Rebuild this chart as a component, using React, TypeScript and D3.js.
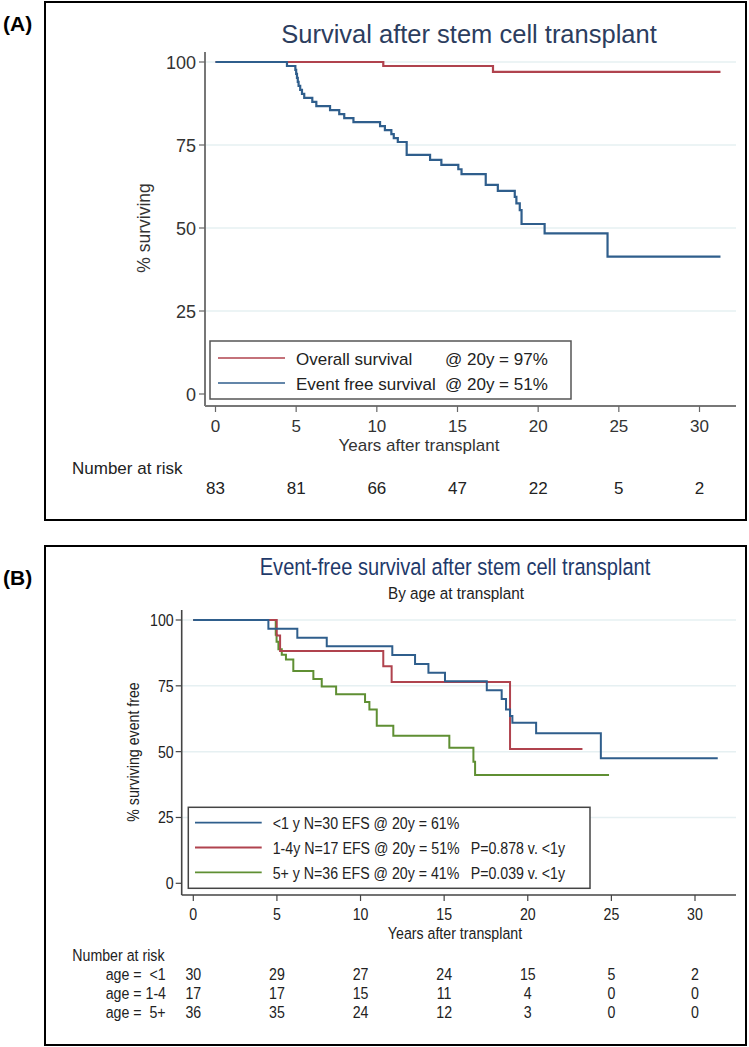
import React from 'react';
import * as d3 from 'd3';

// ---------- shared ----------
const yearTicks = [0, 5, 10, 15, 20, 25, 30];
const pctTicks = [0, 25, 50, 75, 100];
const gridTicks = [25, 50, 75, 100];

// ---------- Panel A data ----------
const osTimes = [0, 10.4, 17.2, 31.3];
const osSurv = [100, 98.8, 97.0, 97.0];
const efsTimes = [0, 4.43, 4.95, 5.0, 5.05, 5.1, 5.15, 5.25, 5.36, 5.5, 6.0, 6.25, 7.1, 7.67, 7.98, 8.55, 10.2, 10.5, 10.9, 11.05, 11.3, 11.85, 13.3, 14.0, 15.05, 15.25, 16.75, 17.5, 18.55, 18.65, 18.86, 18.97, 20.4, 24.3, 31.3];
const efsSurv = [100, 98.8, 97.6, 96.4, 95.2, 94.0, 92.8, 91.6, 90.4, 89.2, 88.0, 86.7, 85.5, 84.3, 83.1, 81.9, 80.7, 79.5, 78.3, 77.1, 75.9, 72.0, 70.5, 69.0, 67.7, 66.2, 63.0, 61.2, 59.4, 57.4, 55.4, 51.2, 48.4, 41.4, 41.4];
const riskA = [83, 81, 66, 47, 22, 5, 2];
const legendA = [
  { name: 'Overall survival', stat: '@ 20y = 97%', color: '#b0434e' },
  { name: 'Event free survival', stat: '@ 20y = 51%', color: '#2f5e8c' },
];

// ---------- Panel B data ----------
const lt1Times = [0, 4.49, 6.22, 7.98, 11.9, 13.26, 14.06, 15.05, 17.55, 18.44, 18.7, 18.94, 19.08, 20.5, 24.37, 31.36];
const lt1Surv = [100, 96.7, 93.3, 90.0, 86.7, 83.3, 80.0, 76.7, 73.3, 70.0, 66.0, 63.5, 61.0, 57.0, 47.5, 47.5];
const midTimes = [0, 4.99, 5.19, 11.36, 11.86, 18.94, 23.27];
const midSurv = [100, 94.1, 88.2, 82.4, 76.5, 51.0, 51.0];
const g5Times = [0, 4.93, 4.98, 5.09, 5.29, 5.54, 5.98, 7.18, 7.68, 8.54, 10.27, 10.53, 10.97, 11.96, 15.31, 16.75, 16.85, 24.86];
const g5Surv = [100, 94.4, 91.7, 88.9, 86.8, 85.0, 80.6, 77.6, 74.7, 71.8, 68.9, 66.0, 59.8, 56.0, 51.5, 46.2, 41.1, 41.1];
const riskLt1 = [30, 29, 27, 24, 15, 5, 2];
const riskMid = [17, 17, 15, 11, 4, 0, 0];
const riskG5 = [36, 35, 24, 12, 3, 0, 0];
const riskLabelsB = ['age =  <1', 'age = 1-4', 'age =  5+'];
const legendB = [
  { main: '<1 y N=30 EFS @ 20y = 61%', p: '', color: '#2f5e8c' },
  { main: '1-4y N=17 EFS @ 20y = 51%', p: 'P=0.878 v. <1y', color: '#b0434e' },
  { main: '5+ y N=36 EFS @ 20y = 41%', p: 'P=0.039 v. <1y', color: '#5f8f33' },
];

const FONT = '"Liberation Sans", Arial, sans-serif';

function T(props: any) {
  const { x, y, s = 1, size, anchor = 'start', fill = '#222', weight = 'normal', rotate = 0, children } = props;
  const tr = `translate(${x},${y})${rotate ? ` rotate(${rotate})` : ''} scale(${s},1)`;
  return (
    <text transform={tr} fontSize={size} textAnchor={anchor} fill={fill} fontWeight={weight}
      fontFamily={FONT} style={{ whiteSpace: 'pre' }} xmlSpace="preserve">{children}</text>
  );
}

function stepPath(times: number[], surv: number[], x: any, y: any) {
  const pts = times.map((t, i) => [t, surv[i]] as [number, number]);
  const line = d3.line<[number, number]>().x(d => x(d[0])).y(d => y(d[1])).curve(d3.curveStepAfter);
  return line(pts) || '';
}

function PanelA() {
  const x = d3.scaleLinear().domain([0, 30]).range([215.5, 699.5]);
  const y = d3.scaleLinear().domain([0, 100]).range([394, 62]);
  const axisX = 205, axisY = 406, right = 736;
  return (
    <g>
      <rect x={45} y={2} width={701} height={518} fill="#fff" stroke="#000" strokeWidth={2} />
      <T x={3} y={31} size={21} weight="bold" fill="#000">(A)</T>
      <T x={469} y={43} size={25.5} anchor="middle" fill="#2c3d5e">Survival after stem cell transplant</T>
      {gridTicks.map(v => (
        <line key={v} x1={axisX} x2={right} y1={y(v)} y2={y(v)} stroke="#e6f0f2" strokeWidth={1.5} />
      ))}
      <line x1={axisX} x2={axisX} y1={52} y2={axisY} stroke="#777" strokeWidth={2} />
      <line x1={axisX} x2={right} y1={axisY} y2={axisY} stroke="#777" strokeWidth={2} />
      {pctTicks.map(v => (
        <g key={v}>
          <line x1={axisX - 6} x2={axisX} y1={y(v)} y2={y(v)} stroke="#666" strokeWidth={1.2} />
          <T x={axisX - 9} y={y(v) + 6.5} size={18} anchor="end" fill="#333">{String(v)}</T>
        </g>
      ))}
      {yearTicks.map(v => (
        <g key={v}>
          <line x1={x(v)} x2={x(v)} y1={axisY} y2={axisY + 6} stroke="#666" strokeWidth={1.2} />
          <T x={x(v)} y={432} size={17} anchor="middle" fill="#333">{String(v)}</T>
        </g>
      ))}
      <T x={150} y={228} size={17.5} anchor="middle" fill="#333" rotate={-90}>% surviving</T>
      <T x={419} y={451} size={17} anchor="middle" fill="#333">Years after transplant</T>
      <path d={stepPath(osTimes, osSurv, x, y)} fill="none" stroke={legendA[0].color} strokeWidth={2.2} />
      <path d={stepPath(efsTimes, efsSurv, x, y)} fill="none" stroke={legendA[1].color} strokeWidth={2.2} />
      <rect x={210} y={341} width={361} height={58} fill="#fff" stroke="#555" strokeWidth={1.5} />
      {legendA.map((d, i) => (
        <g key={d.name}>
          <line x1={218} x2={285} y1={358 + i * 25} y2={358 + i * 25} stroke={d.color} strokeWidth={1.5} />
          <T x={296} y={364.5 + i * 25} size={17} fill="#222">{d.name}</T>
          <T x={445} y={364.5 + i * 25} size={17} fill="#222">{d.stat}</T>
        </g>
      ))}
      <T x={72} y={474} size={17} fill="#222">Number at risk</T>
      {riskA.map((n, i) => (
        <T key={i} x={x(yearTicks[i])} y={494} size={17} anchor="middle" fill="#222">{String(n)}</T>
      ))}
    </g>
  );
}

function PanelB() {
  const x = d3.scaleLinear().domain([0, 30]).range([193.3, 695]);
  const y = d3.scaleLinear().domain([0, 100]).range([883.3, 620]);
  const axisX = 181.7, axisY = 895, right = 736;
  const S = 0.86;
  const risks = [riskLt1, riskMid, riskG5];
  return (
    <g>
      <rect x={45} y={546} width={701} height={499} fill="#fff" stroke="#000" strokeWidth={2} />
      <T x={3} y={585} size={21} weight="bold" fill="#000">(B)</T>
      <T x={455} y={575} size={24.5} s={0.82} anchor="middle" fill="#1f3a6a">Event-free survival after stem cell transplant</T>
      <T x={456} y={599} size={17} s={0.9} anchor="middle" fill="#222">By age at transplant</T>
      {gridTicks.map(v => (
        <line key={v} x1={axisX} x2={right} y1={y(v)} y2={y(v)} stroke="#e6f0f2" strokeWidth={1.5} />
      ))}
      <line x1={axisX} x2={axisX} y1={610} y2={axisY} stroke="#444" strokeWidth={1.6} />
      <line x1={axisX} x2={right} y1={axisY} y2={axisY} stroke="#444" strokeWidth={1.6} />
      {pctTicks.map(v => (
        <g key={v}>
          <line x1={axisX - 6} x2={axisX} y1={y(v)} y2={y(v)} stroke="#444" strokeWidth={1.2} />
          <T x={axisX - 8} y={y(v) + 6} size={16.5} s={S} anchor="end" fill="#222">{String(v)}</T>
        </g>
      ))}
      {yearTicks.map(v => (
        <g key={v}>
          <line x1={x(v)} x2={x(v)} y1={axisY} y2={axisY + 6} stroke="#444" strokeWidth={1.2} />
          <T x={x(v)} y={919.5} size={16.5} s={S} anchor="middle" fill="#222">{String(v)}</T>
        </g>
      ))}
      <T x={138.5} y={752} size={16.5} s={S} anchor="middle" fill="#222" rotate={-90}>% surviving event free</T>
      <T x={455} y={939} size={16.5} s={S} anchor="middle" fill="#222">Years after transplant</T>
      <path d={stepPath(g5Times, g5Surv, x, y)} fill="none" stroke={legendB[2].color} strokeWidth={2} />
      <path d={stepPath(midTimes, midSurv, x, y)} fill="none" stroke={legendB[1].color} strokeWidth={2} />
      <path d={stepPath(lt1Times, lt1Surv, x, y)} fill="none" stroke={legendB[0].color} strokeWidth={2} />
      <rect x={188.3} y={807.3} width={401.7} height={81} fill="#fff" stroke="#444" strokeWidth={1.5} />
      {legendB.map((d, i) => (
        <g key={d.main}>
          <line x1={195} x2={261.7} y1={822.7 + i * 24.8} y2={822.7 + i * 24.8} stroke={d.color} strokeWidth={1.8} />
          <T x={272.7} y={829.3 + i * 24.8} size={16.5} s={S} fill="#222">{d.main}</T>
          {d.p ? <T x={470.7} y={829.3 + i * 24.8} size={16.5} s={S} fill="#222">{d.p}</T> : null}
        </g>
      ))}
      <T x={72.3} y={961} size={16.5} s={S} fill="#222">Number at risk</T>
      {risks.map((row, r) => (
        <g key={r}>
          <T x={105.7} y={980 + r * 19} size={16.5} s={S} fill="#222">{riskLabelsB[r]}</T>
          {row.map((n, i) => (
            <T key={i} x={x(yearTicks[i])} y={980 + r * 19} size={16.5} s={S} anchor="middle" fill="#222">{String(n)}</T>
          ))}
        </g>
      ))}
    </g>
  );
}

export default function App() {
  return (
    <svg width={749} height={1047} viewBox="0 0 749 1047"
      style={{ position: 'absolute', left: 0, top: 0, background: '#fff' }}>
      <rect x={0} y={0} width={749} height={1047} fill="#fff" />
      <PanelA />
      <PanelB />
    </svg>
  );
}
